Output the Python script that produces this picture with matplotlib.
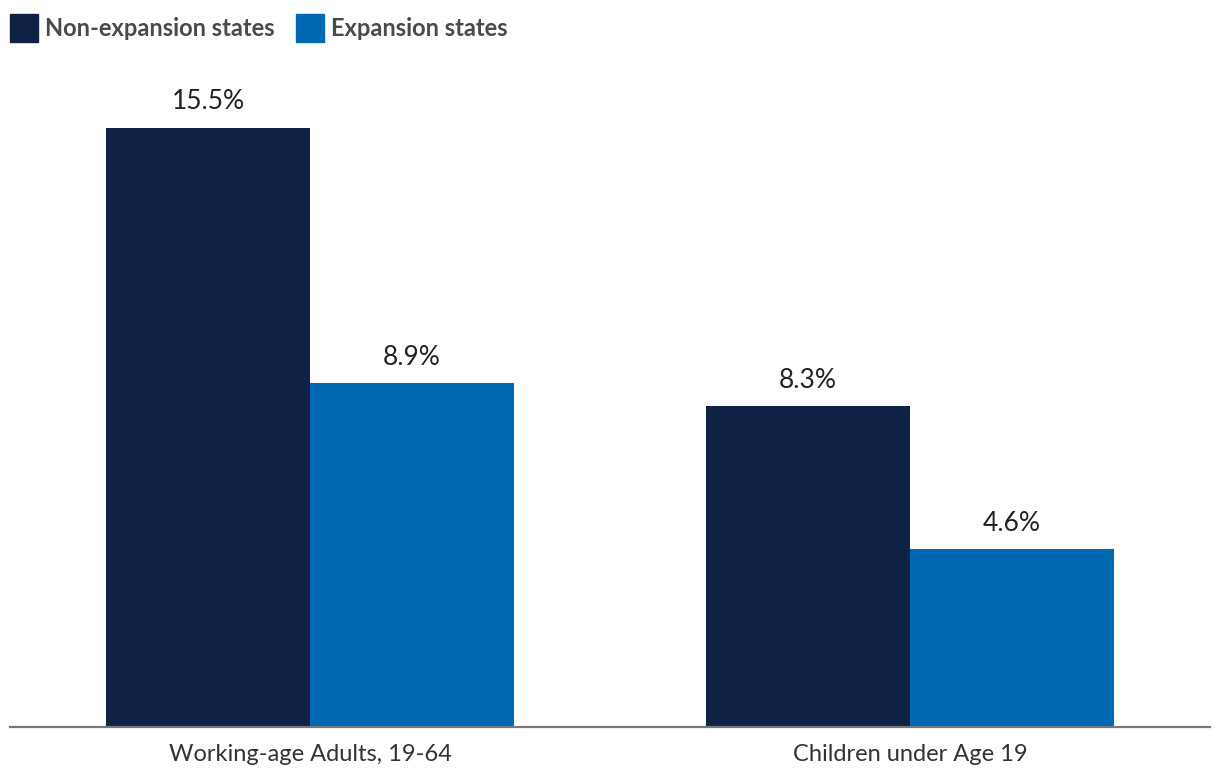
import matplotlib
matplotlib.use("Agg")
import matplotlib.pyplot as plt
import numpy as np
from matplotlib.patches import Rectangle

categories = ["Working-age Adults, 19-64", "Children under Age 19"]
series_names = ["Non-expansion states", "Expansion states"]
non_expansion = [15.5, 8.3]
expansion = [8.9, 4.6]
colors = ["#0f2246", "#0069b4"]

plt.rcParams['font.family'] = ['Lato', 'DejaVu Sans']

fig = plt.figure(figsize=(12.2, 7.84), dpi=100)
ax = fig.add_axes([10/1220, 57/784, 1200/1220, 667/784])

x = np.arange(len(categories))
w = 0.34
for i, (vals, c) in enumerate(zip([non_expansion, expansion], colors)):
    pos = x + (i - 0.5) * w
    bars = ax.bar(pos, vals, width=w, color=c)
    for p, v in zip(pos, vals):
        ax.text(p, v + 0.35, f"{v:.1f}%", ha='center', va='bottom', fontsize=19, color='#222222')

ax.set_xlim(-0.5, 1.5)
ax.set_ylim(0, 17.26)
ax.set_xticks(x)
ax.set_xticklabels(categories, fontsize=17, color='#333333')
ax.tick_params(axis='x', length=0, pad=12)
ax.set_yticks([])
for s in ['top', 'right', 'left']:
    ax.spines[s].set_visible(False)
ax.spines['bottom'].set_color('#777777')
ax.spines['bottom'].set_linewidth(1.6)

# legend
lx = 10
for name, c in zip(series_names, colors):
    fig.patches.append(Rectangle((lx/1220, 1 - 42/784), 28/1220, 28/784, transform=fig.transFigure, color=c))
    t = fig.text((lx + 35)/1220, 1 - 29/784, name, fontsize=17, fontweight='bold', color='#4a4a4a', va='center', ha='left')
    fig.canvas.draw()
    bb = t.get_window_extent()
    lx = bb.x1 + 21

fig.savefig("out.png", dpi=100)
